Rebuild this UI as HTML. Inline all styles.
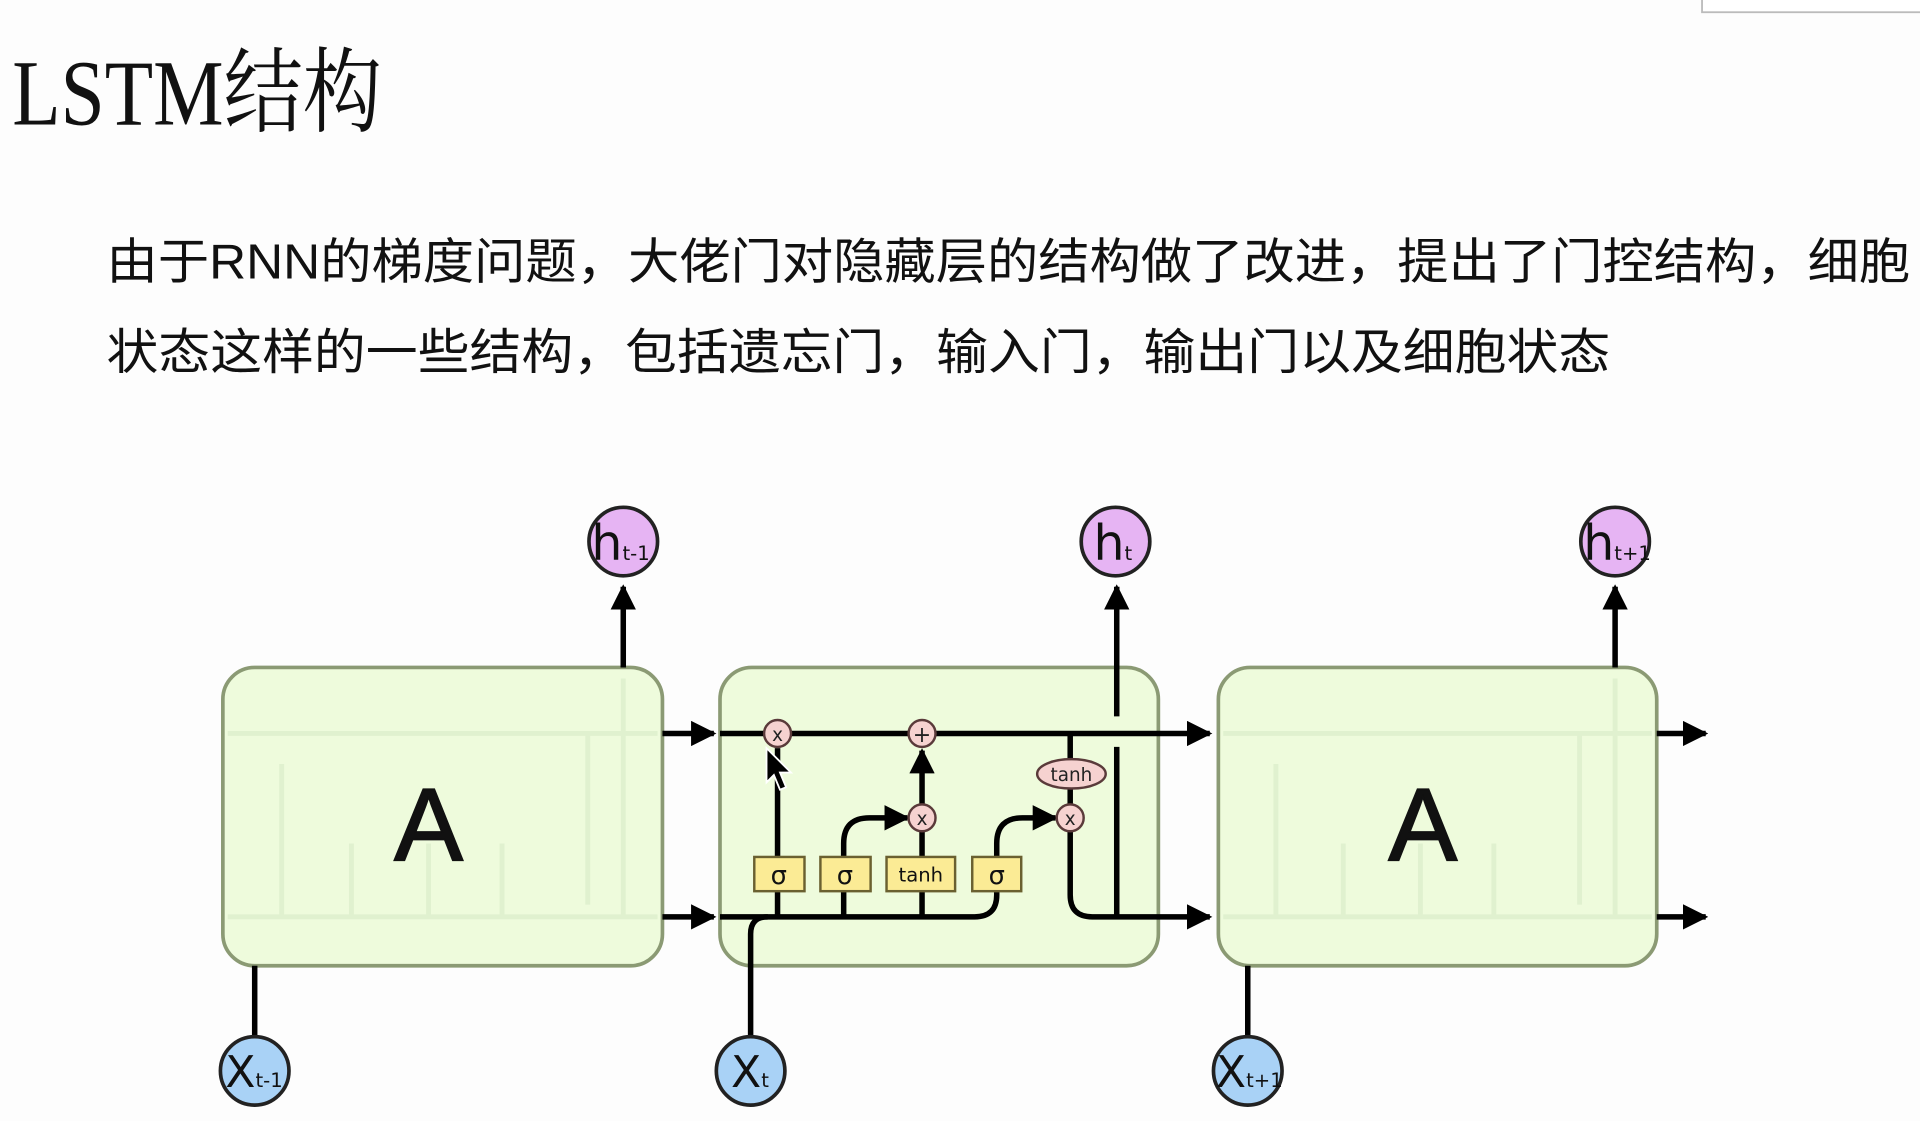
<!DOCTYPE html>
<html><head><meta charset="utf-8">
<style>html,body{margin:0;padding:0;background:#fff;}svg{display:block}</style>
</head><body>
<svg width="1920" height="1121" viewBox="0 0 1568 917" preserveAspectRatio="none" xmlns="http://www.w3.org/2000/svg">
<defs>
<marker id="ar" viewBox="0 0 10 10" refX="9" refY="5" markerWidth="4.6" markerHeight="4.6" orient="auto" markerUnits="strokeWidth"><path d="M0,0 L10,5 L0,10 z" fill="#000"/></marker>
</defs>
<rect x="0" y="0" width="1568" height="917" fill="#fdfdfd"/>
<rect x="1390" y="-5" width="190" height="15" fill="#fff" stroke="#bbb" stroke-width="1.5"/>
<text x="10" y="102" font-family="Liberation Serif, Noto Serif CJK SC, serif" font-size="76" fill="#111" textLength="302" lengthAdjust="spacingAndGlyphs">LSTM结构</text>
<g font-family="Liberation Sans, Noto Sans CJK SC, sans-serif" font-size="40" fill="#111">
<text x="87" y="228" textLength="1473" lengthAdjust="spacingAndGlyphs">由于RNN的梯度问题，大佬门对隐藏层的结构做了改进，提出了门控结构，细胞</text>
<text x="87" y="302" textLength="1228" lengthAdjust="spacingAndGlyphs">状态这样的一些结构，包括遗忘门，输入门，输出门以及细胞状态</text>
</g>

<g fill="#eefbdc" stroke="#8b9a74" stroke-width="3">
<rect x="182" y="546" width="359" height="244" rx="26"/>
<rect x="588" y="546" width="358" height="244" rx="26"/>
<rect x="995" y="546" width="358" height="244" rx="26"/>
</g>

<g stroke="#dcefcc" stroke-width="4" fill="none" opacity="0.8">
<path d="M186 600 H537 M186 750 H537 M230 750 V625 M287 750 V690 M350 750 V690 M410 750 V690 M480 600 V740 M509 555 V750"/>
<path d="M999 600 H1349 M999 750 H1349 M1042 750 V625 M1097 750 V690 M1160 750 V690 M1220 750 V690 M1290 600 V740 M1319 555 V750"/>
</g>
<g font-family="Liberation Sans, sans-serif" font-size="84" fill="#111" text-anchor="middle" stroke="#111" stroke-width="1.5">
<text x="350" y="704">A</text>
<text x="1162" y="704">A</text>
</g>

<g stroke="#000" stroke-width="4.5" fill="none">
<path d="M541 600 H583" marker-end="url(#ar)"/>
<path d="M541 750 H583" marker-end="url(#ar)"/>
<path d="M1353 600 H1393" marker-end="url(#ar)"/>
<path d="M1353 750 H1393" marker-end="url(#ar)"/>
<path d="M509 546 V480" marker-end="url(#ar)"/>
<path d="M1319 546 V480" marker-end="url(#ar)"/>
<path d="M208 848 V790"/>
<path d="M1019 848 V790"/>
</g>

<g stroke="#000" stroke-width="4.5" fill="none">
<path d="M588 600 H988" marker-end="url(#ar)"/>
<path d="M588 750 H796 Q814 750 814 732 V700"/>
<path d="M613 848 V764 Q613 750 627 750"/>
<path d="M635 750 V612"/>
<path d="M689 750 V690 Q689 669 710 669 H741" marker-end="url(#ar)"/>
<path d="M753 750 V680"/>
<path d="M753 658 V614" marker-end="url(#ar)"/>
<path d="M814 702 V690 Q814 669 835 669 H862" marker-end="url(#ar)"/>
<path d="M874 600 V658"/>
<path d="M874 680 V732 Q874 750 892 750 H988" marker-end="url(#ar)"/>
<path d="M912 750 V611"/>
<path d="M912 586 V480" marker-end="url(#ar)"/>
</g>
<g fill="#fbeb95" stroke="#6a6030" stroke-width="2">
<rect x="616" y="701" width="41" height="28"/>
<rect x="670" y="701" width="41" height="28"/>
<rect x="724" y="701" width="56" height="28"/>
<rect x="794" y="701" width="40" height="28"/>
</g>
<g font-family="DejaVu Sans, Liberation Sans, sans-serif" fill="#111" text-anchor="middle">
<text x="636" y="723" font-size="21">σ</text>
<text x="690" y="723" font-size="21">σ</text>
<text x="752" y="721" font-size="16">tanh</text>
<text x="814" y="723" font-size="21">σ</text>
</g>
<g fill="#f6d2d0" stroke="#5a3a3a" stroke-width="2">
<circle cx="635" cy="600" r="11"/>
<circle cx="753" cy="600" r="11"/>
<circle cx="753" cy="669" r="11"/>
<circle cx="874" cy="669" r="11"/>
<ellipse cx="875" cy="633" rx="28" ry="12"/>
</g>
<g font-family="DejaVu Sans, Liberation Sans, sans-serif" fill="#222" text-anchor="middle">
<text x="635" y="606" font-size="15">x</text>
<text x="753" y="607" font-size="18">+</text>
<text x="753" y="675" font-size="15">x</text>
<text x="874" y="675" font-size="15">x</text>
<text x="875" y="639" font-size="15">tanh</text>
</g>
<path d="M626 612 L626 640 L632 634 L637 646 L642 644 L637 632 L646 632 Z" fill="#000" stroke="#fff" stroke-width="1.5"/>

<g fill="#e6b4f3" stroke="#222" stroke-width="3">
<circle cx="509" cy="443" r="28"/>
<circle cx="911" cy="443" r="28"/>
<circle cx="1319" cy="443" r="28"/>
</g>
<g fill="#a9d2f6" stroke="#222" stroke-width="3">
<circle cx="208" cy="876" r="28"/>
<circle cx="613" cy="876" r="28"/>
<circle cx="1019" cy="876" r="28"/>
</g>
<g font-family="DejaVu Sans, Liberation Sans, sans-serif" fill="#111">
<text x="483" y="458" font-size="40">h<tspan font-size="16">t-1</tspan></text>
<text x="893" y="458" font-size="40">h<tspan font-size="16">t</tspan></text>
<text x="1293" y="458" font-size="40">h<tspan font-size="16">t+1</tspan></text>
<text x="184" y="889" font-size="36">X<tspan font-size="16">t-1</tspan></text>
<text x="597" y="889" font-size="36">X<tspan font-size="16">t</tspan></text>
<text x="993" y="889" font-size="36">X<tspan font-size="16">t+1</tspan></text>
</g>
</svg>
</body></html>
